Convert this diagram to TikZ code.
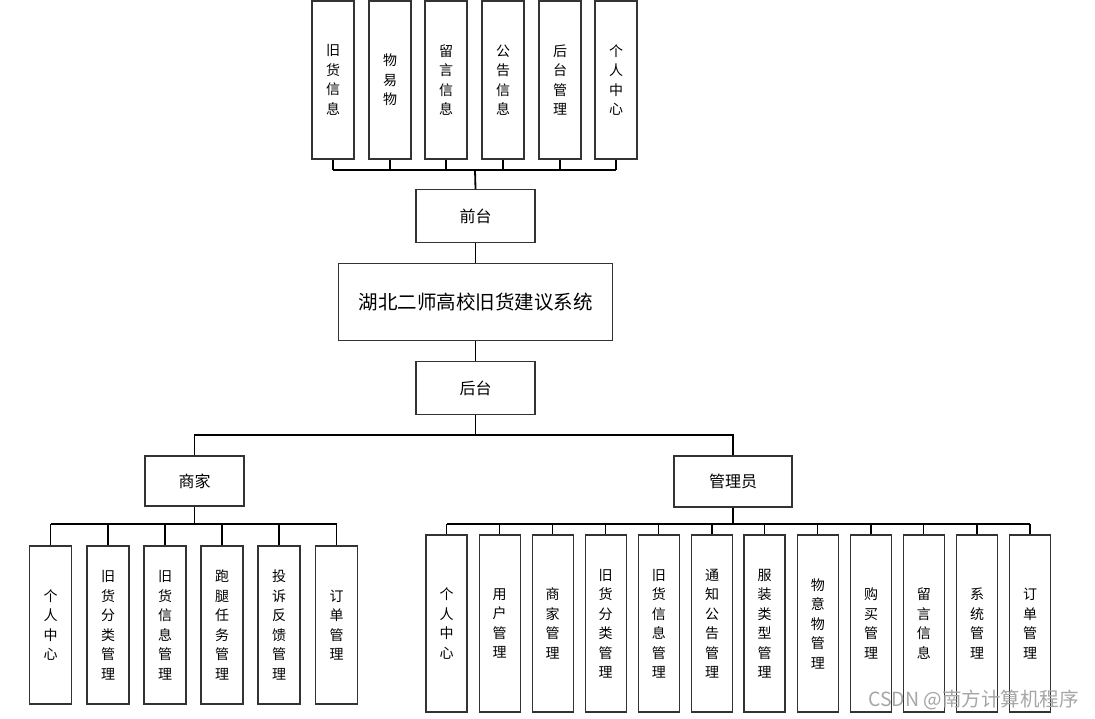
\documentclass[tikz,border=0pt]{standalone}
\usepackage{fontspec}
\setmainfont{Noto Sans CJK SC}
\begin{document}
\begin{tikzpicture}[x=1pt,y=-1pt,
  bx/.style={draw=black!80, line width=1.3pt, fill=white, inner sep=0pt, align=center},
  vbox/.style={bx, font=\fontsize{14}{19.5}\selectfont},
  hbox/.style={bx, font=\fontsize{16}{18}\selectfont},
  ln/.style={draw=black, line width=1.3pt},
  tk/.style={draw=black, line width=1.8pt}]
\useasboundingbox (0,0) rectangle (1095,719);
% top row
\node[vbox, minimum width=42, minimum height=158] (t1) at (333,80) {旧\\货\\信\\息};
\node[vbox, minimum width=42, minimum height=158] (t2) at (390,80) {物\\易\\物};
\node[vbox, minimum width=42, minimum height=158] (t3) at (446,80) {留\\言\\信\\息};
\node[vbox, minimum width=42, minimum height=158] (t4) at (503,80) {公\\告\\信\\息};
\node[vbox, minimum width=42, minimum height=158] (t5) at (560,80) {后\\台\\管\\理};
\node[vbox, minimum width=42, minimum height=158] (t6) at (616,80) {个\\人\\中\\心};
\coordinate (tb) at (475,170);
\foreach \i in {1,...,6} \draw[ln] (t\i.south) -- (t\i.south |- tb);
\draw[ln] (t1.south |- tb) -- (t6.south |- tb);
% centre column
\node[hbox, minimum width=119, minimum height=53] (qt) at (475.5,216) {前台};
\node[bx, font=\fontsize{19.5}{22}\selectfont, minimum width=274, minimum height=77] (sys) at (475.5,302) {湖北二师高校旧货建议系统};
\node[hbox, minimum width=119, minimum height=53] (ht) at (475.5,388) {后台};
\draw[tk] (tb) -- (qt.north);
\draw[ln] (qt.south) -- (sys.north);
\draw[ln] (sys.south) -- (ht.north);
\node[hbox, minimum width=99, minimum height=50] (sj) at (194.5,481) {商家};
\node[hbox, minimum width=118, minimum height=51] (gl) at (733,481.5) {管理员};
\coordinate (hb) at (475.5,435);
\draw[tk] (ht.south) -- (hb);
\draw[ln] (sj.north) |- (hb) -| (gl.north);
% merchant row
\coordinate (lb) at (194.5,524);
\node[vbox, minimum width=42, minimum height=158] (m1) at (50.5,625) {个\\人\\中\\心};
\node[vbox, minimum width=42, minimum height=158] (m2) at (108,625) {旧\\货\\分\\类\\管\\理};
\node[vbox, minimum width=42, minimum height=158] (m3) at (165,625) {旧\\货\\信\\息\\管\\理};
\node[vbox, minimum width=42, minimum height=158] (m4) at (222,625) {跑\\腿\\任\\务\\管\\理};
\node[vbox, minimum width=42, minimum height=158] (m5) at (279,625) {投\\诉\\反\\馈\\管\\理};
\node[vbox, minimum width=42, minimum height=158] (m6) at (336.5,625) {订\\单\\管\\理};
\draw[tk] (sj.south) -- (lb);
\foreach \i in {1,...,6} \draw[ln] (m\i.north) -- (m\i.north |- lb);
\draw[ln] (m1.north |- lb) -- (m6.north |- lb);
% admin row
\coordinate (rb) at (733,524);
\node[vbox, minimum width=41, minimum height=177] (a1) at (446.5,623.5) {个\\人\\中\\心};
\node[vbox, minimum width=41, minimum height=177] (a2) at (499.7,623.5) {用\\户\\管\\理};
\node[vbox, minimum width=41, minimum height=177] (a3) at (552.7,623.5) {商\\家\\管\\理};
\node[vbox, minimum width=41, minimum height=177] (a4) at (605.7,623.5) {旧\\货\\分\\类\\管\\理};
\node[vbox, minimum width=41, minimum height=177] (a5) at (658.8,623.5) {旧\\货\\信\\息\\管\\理};
\node[vbox, minimum width=41, minimum height=177] (a6) at (712,623.5) {通\\知\\公\\告\\管\\理};
\node[vbox, minimum width=41, minimum height=177] (a7) at (764.5,623.5) {服\\装\\类\\型\\管\\理};
\node[vbox, minimum width=41, minimum height=177] (a8) at (817.8,623.5) {物\\意\\物\\管\\理};
\node[vbox, minimum width=41, minimum height=177] (a9) at (871,623.5) {购\\买\\管\\理};
\node[vbox, minimum width=41, minimum height=177] (a10) at (923.8,623.5) {留\\言\\信\\息};
\node[vbox, minimum width=41, minimum height=177] (a11) at (977,623.5) {系\\统\\管\\理};
\node[vbox, minimum width=41, minimum height=177] (a12) at (1030,623.5) {订\\单\\管\\理};
\draw[tk] (gl.south) -- (rb);
\foreach \i in {1,...,12} \draw[ln] (a\i.north) -- (a\i.north |- rb);
\draw[ln] (a1.north |- rb) -- (a12.north |- rb);
% watermark
\node[text=black!35, font=\fontsize{19.5}{21}\selectfont, inner sep=0pt] (wm) at (973.5,700) {CSDN @南方计算机程序};
\end{tikzpicture}
\end{document}
